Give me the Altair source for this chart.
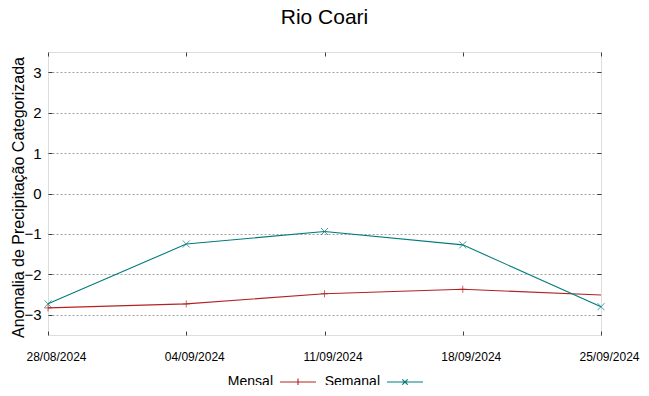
import altair as alt
import pandas as pd

dates = ["28/08/2024", "04/09/2024", "11/09/2024", "18/09/2024", "25/09/2024"]
mensal = [-2.83, -2.73, -2.48, -2.37, -2.51]
semanal = [-2.73, -1.25, -0.94, -1.27, -2.80]
series_names = ["Mensal", "Semanal"]
series_colors = ["#b22222", "#007b7b"]
y_ticks = [-3, -2, -1, 0, 1, 2, 3]

rows = []
for d, m, s in zip(dates, mensal, semanal):
    rows.append({"date": d, "serie": "Mensal", "valor": m})
    rows.append({"date": d, "serie": "Semanal", "valor": s})
df = pd.DataFrame(rows)

FONT = "Liberation Sans"
TICK_COLOR = "#404040"
x_scale = alt.Scale(type="point", padding=0)
y_scale = alt.Scale(domain=[-3.5, 3.5], nice=False)

x_enc = alt.X(
    "date:O", sort=dates, scale=x_scale,
    axis=alt.Axis(
        title=None, labelAngle=0, labelFontSize=12, labelFont=FONT,
        labelColor="#000", labelPadding=16, labelOffset=8, tickSize=4, offset=-4,
        tickColor=TICK_COLOR, domain=False, grid=False,
    ),
)
y_enc = alt.Y(
    "valor:Q", scale=y_scale,
    axis=alt.Axis(
        title="Anomalia de Precipitação Categorizada", values=y_ticks,
        labelFontSize=15, labelFont=FONT, labelColor="#000", labelPadding=7,
        tickSize=4, offset=-4, tickColor=TICK_COLOR, domain=False,
        grid=True, gridColor="#a0a0a0", gridDash=[2, 2], gridWidth=1,
        titleFontSize=16, titleFont=FONT, titleFontWeight="normal", titleColor="#000",
        titleX=-34, titleY=145, titleAngle=270, titleAlign="center", titleBaseline="middle",
    ),
)

layers = []
shapes = {"Mensal": "M-1,0L1,0M0,-1L0,1", "Semanal": "M-1,-1L1,1M-1,1L1,-1"}
for name, col in zip(series_names, series_colors):
    sub = df[df["serie"] == name]
    base = alt.Chart(sub).encode(x=x_enc, y=y_enc)
    layers.append(base.mark_line(color=col, strokeWidth=1.1))
    pts = base.mark_point(shape=shapes[name], color=col, size=50, strokeWidth=1, filled=False)
    if name == "Mensal":
        pts = pts.transform_filter(alt.datum.date != dates[-1])
    layers.append(pts)

legend_layer = alt.Chart(df).mark_point(opacity=0).encode(
    x=x_enc, y=y_enc,
    color=alt.Color(
        "serie:N",
        scale=alt.Scale(domain=series_names, range=series_colors),
        legend=alt.Legend(
            title=None, orient="none", legendX=231, legendY=311, direction="horizontal",
            labelFontSize=14, labelFont=FONT, labelColor="#000",
            symbolOpacity=1, symbolStrokeWidth=1.1, symbolSize=1300,
            symbolFillColor="transparent", columnPadding=5,
            labelAlign="right", labelOffset={"expr": "-44"},
        ),
    ),
    shape=alt.Shape(
        "serie:N",
        scale=alt.Scale(
            domain=series_names,
            range=["M-1,0L1,0M0,-0.2L0,0.2", "M-1,0L1,0M-0.15,-0.15L0.15,0.15M-0.15,0.15L0.15,-0.15"],
        ),
    ),
)
layers.append(legend_layer)

main = alt.layer(*layers)

mirror = alt.Chart(df).mark_point(opacity=0).encode(
    x=alt.X("date:O", sort=dates, scale=x_scale,
            axis=alt.Axis(orient="top", title=None, labels=False, tickSize=4, offset=-4,
                          tickColor=TICK_COLOR, domain=False, grid=False)),
    y=alt.Y("valor:Q", scale=y_scale,
            axis=alt.Axis(orient="right", title=None, labels=False, values=y_ticks,
                          tickSize=4, offset=-4, tickColor=TICK_COLOR, domain=False, grid=False)),
)

chart = alt.layer(main, mirror).resolve_axis(x="independent", y="independent").properties(
    width=553,
    height=283,
    title=alt.Title("Rio Coari", fontSize=21, font=FONT, fontWeight="normal", color="#000",
                    anchor="middle", offset=24),
    padding={"left": 40, "top": 44, "right": 40, "bottom": 50},
    autosize=alt.AutoSizeParams(type="none"),
).configure_view(stroke="#505050", strokeWidth=1).configure(background="white")

chart.save("out.html", embed_options={"renderer": "svg", "actions": False})
